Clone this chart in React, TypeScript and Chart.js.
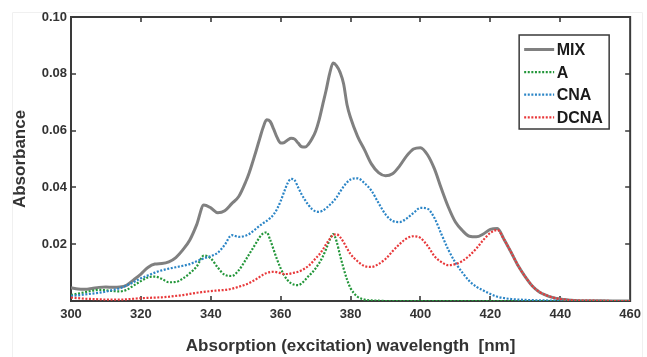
import { useEffect, useRef } from 'react';
import { Chart, registerables } from 'chart.js';

Chart.register(...registerables);

// Wavelength grid in nm (denser around the sharp bands)
const wavelengths = [
  300, 302, 304, 306, 308, 310, 312, 314, 316, 318, 320, 322, 324, 326, 328, 330, 332, 334, 336, 338, 340, 342, 344, 346, 348, 350,
  351, 352, 353, 354, 355, 356, 357, 358, 359, 360, 361, 362, 363, 364, 365, 366, 367, 368, 369, 370, 371, 372, 373, 374, 375, 376, 377, 378, 379, 380,
  382, 384, 386, 388, 390, 392, 394, 396, 398, 400, 402, 404, 406, 408, 410, 412, 414, 416, 418, 420, 422, 424, 426, 428, 430, 432, 434, 436, 438, 440, 442, 444,
  450, 455, 460,
];

const mixAbs = [
  0.0047, 0.0042, 0.0041, 0.0044, 0.0048, 0.0049, 0.0048, 0.0049, 0.0056, 0.0075, 0.0095, 0.0118, 0.0130, 0.0132, 0.0138, 0.0153, 0.0180, 0.0215, 0.0270, 0.0338, 0.0328, 0.0311, 0.0318, 0.0343, 0.0368, 0.0420,
  0.0452, 0.0490, 0.0530, 0.0572, 0.0612, 0.0638, 0.0632, 0.0605, 0.0575, 0.0556, 0.0558, 0.0567, 0.0573, 0.0570, 0.0556, 0.0543, 0.0542, 0.0553, 0.0572, 0.0598, 0.0638, 0.0690, 0.0742, 0.0800, 0.0838, 0.0828, 0.0805, 0.0765, 0.0690, 0.0645,
  0.0580, 0.0532, 0.0482, 0.0452, 0.0441, 0.0448, 0.0475, 0.0510, 0.0535, 0.0540, 0.0515, 0.0465, 0.0395, 0.0330, 0.0278, 0.0248, 0.0228, 0.0226, 0.0236, 0.0252, 0.0255, 0.0215, 0.0170, 0.0123, 0.0085, 0.0053, 0.0032, 0.0020, 0.0012, 0.0007, 0.0004, 0.0002,
  0.0001, 0, 0,
];

const aAbs = [
  0.0021, 0.0026, 0.0031, 0.0036, 0.0039, 0.0038, 0.0035, 0.0034, 0.0040, 0.0055, 0.0070, 0.0083, 0.0086, 0.0078, 0.0066, 0.0067, 0.0079, 0.0098, 0.0122, 0.0160, 0.0150, 0.0118, 0.0092, 0.0088, 0.0108, 0.0145,
  0.0165, 0.0185, 0.0205, 0.0225, 0.0238, 0.0242, 0.0215, 0.0180, 0.0145, 0.0115, 0.0090, 0.0073, 0.0062, 0.0057, 0.0056, 0.0062, 0.0074, 0.0088, 0.0100, 0.0115, 0.0133, 0.0155, 0.0183, 0.0215, 0.0236, 0.0210, 0.0160, 0.0115, 0.0075, 0.0045,
  0.0015, 0.0005, 0.0002, 0.0001, 0, 0, 0, 0, 0, 0, 0, 0, 0, 0, 0, 0, 0, 0, 0, 0, 0, 0, 0, 0, 0, 0, 0, 0, 0, 0, 0, 0,
  0, 0, 0,
];

const cnaAbs = [
  0.0018, 0.0020, 0.0023, 0.0026, 0.0029, 0.0033, 0.0039, 0.0045, 0.0055, 0.0067, 0.0080, 0.0090, 0.0100, 0.0108, 0.0114, 0.0119, 0.0124, 0.0130, 0.0140, 0.0150, 0.0158, 0.0170, 0.0198, 0.0232, 0.0226, 0.0230,
  0.0236, 0.0245, 0.0255, 0.0265, 0.0274, 0.0282, 0.0292, 0.0305, 0.0325, 0.0352, 0.0385, 0.0415, 0.0430, 0.0425, 0.0400, 0.0375, 0.0355, 0.0337, 0.0323, 0.0316, 0.0314, 0.0318, 0.0327, 0.0338, 0.0350, 0.0365, 0.0385, 0.0403, 0.0418, 0.0428,
  0.0432, 0.0415, 0.0388, 0.0345, 0.0305, 0.0282, 0.0278, 0.0290, 0.0310, 0.0328, 0.0325, 0.0292, 0.0235, 0.0180, 0.0135, 0.0100, 0.0070, 0.0050, 0.0037, 0.0025, 0.0015, 0.0010, 0.0007, 0.0005, 0.0004, 0.0003, 0.0002, 0.0002, 0.0001, 0.0001, 0.0001, 0,
  0, 0, 0,
];

const dcnaAbs = [
  0.0012, 0.0010, 0.0008, 0.0007, 0.0006, 0.0005, 0.0005, 0.0005, 0.0006, 0.0008, 0.0010, 0.0011, 0.0012, 0.0013, 0.0015, 0.0018, 0.0021, 0.0025, 0.0029, 0.0032, 0.0035, 0.0037, 0.0039, 0.0043, 0.0050, 0.0058,
  0.0063, 0.0070, 0.0077, 0.0085, 0.0093, 0.0099, 0.0102, 0.0103, 0.0101, 0.0098, 0.0095, 0.0095, 0.0097, 0.0100, 0.0103, 0.0108, 0.0115, 0.0124, 0.0136, 0.0150, 0.0163, 0.0180, 0.0200, 0.0218, 0.0232, 0.0235, 0.0225, 0.0207, 0.0185, 0.0165,
  0.0140, 0.0123, 0.0120, 0.0130, 0.0148, 0.0175, 0.0200, 0.0220, 0.0228, 0.0222, 0.0195, 0.0158, 0.0137, 0.0126, 0.0130, 0.0141, 0.0160, 0.0185, 0.0215, 0.0240, 0.0250, 0.0215, 0.0170, 0.0123, 0.0085, 0.0053, 0.0032, 0.0020, 0.0012, 0.0007, 0.0004, 0.0002,
  0.0001, 0, 0,
];

const seriesLabels = ['MIX', 'A', 'CNA', 'DCNA'];
const seriesColors = ['#808080', '#23963a', '#2b85c6', '#e8383a'];

const FONT = '"Liberation Sans", Arial, Helvetica, sans-serif';
const INK = '#333333';

const toPoints = (vals: number[]) => wavelengths.map((w, i) => ({ x: w, y: vals[i] }));

// Box frame with inward tick marks on all four sides, plus an in-plot legend
const framePlugin = {
  id: 'boxFrame',
  beforeDraw(chart: any) {
    const { ctx, width, height } = chart;
    ctx.save();
    ctx.strokeStyle = '#f0f0f0';
    ctx.lineWidth = 1;
    ctx.beginPath();
    ctx.moveTo(12.5, height);
    ctx.lineTo(12.5, 12.5);
    ctx.lineTo(width - 4.5, 12.5);
    ctx.lineTo(width - 4.5, height);
    ctx.stroke();
    ctx.restore();
  },
  beforeDatasetsDraw(chart: any) {
    const { ctx, chartArea } = chart;
    const { left, right, top, bottom } = chartArea;
    const xs = chart.scales.x;
    const ys = chart.scales.y;
    ctx.save();
    ctx.strokeStyle = '#3a3a3a';
    ctx.lineWidth = 2;
    ctx.strokeRect(left, top, right - left, bottom - top);
    ctx.lineWidth = 1.6;
    const tl = 5;
    ctx.beginPath();
    xs.ticks.forEach((t: any) => {
      const px = Math.round(xs.getPixelForValue(t.value));
      if (px <= left + 1 || px >= right - 1) return;
      ctx.moveTo(px, bottom);
      ctx.lineTo(px, bottom - tl);
      ctx.moveTo(px, top);
      ctx.lineTo(px, top + tl);
    });
    ys.ticks.forEach((t: any) => {
      const py = Math.round(ys.getPixelForValue(t.value));
      if (py <= top + 1 || py >= bottom - 1) return;
      ctx.moveTo(left, py);
      ctx.lineTo(left + tl, py);
      ctx.moveTo(right, py);
      ctx.lineTo(right - tl, py);
    });
    ctx.stroke();
    ctx.restore();
  },
  afterDraw(chart: any) {
    const { ctx, chartArea } = chart;
    const boxRight = chartArea.right - 21;
    const boxLeft = boxRight - 90;
    const boxTop = chartArea.top + 18;
    const rowH = 22.6;
    const boxH = 94;
    ctx.save();
    ctx.fillStyle = '#ffffff';
    ctx.fillRect(boxLeft, boxTop, boxRight - boxLeft, boxH);
    ctx.strokeStyle = '#3a3a3a';
    ctx.lineWidth = 1.5;
    ctx.strokeRect(boxLeft, boxTop, boxRight - boxLeft, boxH);
    ctx.font = `bold 16px ${FONT}`;
    ctx.textBaseline = 'middle';
    ctx.textAlign = 'left';
    chart.data.datasets.forEach((ds: any, i: number) => {
      const cy = boxTop + 15 + i * rowH;
      ctx.beginPath();
      ctx.strokeStyle = ds.borderColor;
      ctx.lineWidth = ds.borderWidth;
      ctx.setLineDash(ds.borderDash || []);
      ctx.moveTo(boxLeft + 5, cy - 0.5);
      ctx.lineTo(boxLeft + 35, cy - 0.5);
      ctx.stroke();
      ctx.setLineDash([]);
      ctx.fillStyle = '#1a1a1a';
      ctx.fillText(ds.label, boxLeft + 37.5, cy + 0.5);
    });
    ctx.restore();
  },
};

export default function App() {
  const canvasRef = useRef<HTMLCanvasElement | null>(null);

  useEffect(() => {
    if (!canvasRef.current) return;
    const series = [mixAbs, aAbs, cnaAbs, dcnaAbs];
    const chart = new Chart(canvasRef.current, {
      type: 'line',
      data: {
        datasets: series.map((vals, i) => ({
          label: seriesLabels[i],
          data: toPoints(vals),
          borderColor: seriesColors[i],
          backgroundColor: seriesColors[i],
          borderWidth: i === 0 ? 3 : 2.2,
          borderDash: i === 0 ? [] : [2, 1.6],
          pointRadius: 0,
          fill: false,
          cubicInterpolationMode: 'monotone' as const,
          order: 4 - i,
        })),
      },
      plugins: [framePlugin],
      options: {
        responsive: false,
        animation: false,
        devicePixelRatio: 1,
        layout: { padding: { left: 0, top: 17, right: 13, bottom: 0 } },
        plugins: {
          legend: { display: false },
          tooltip: { enabled: false },
        },
        scales: {
          x: {
            type: 'linear',
            min: 300,
            max: 460,
            grid: { display: false, drawTicks: false },
            border: { display: false },
            ticks: {
              stepSize: 20,
              padding: 6,
              color: INK,
              font: { family: FONT, size: 13, weight: 'bold' },
              callback: (v: any) => String(v),
            },
            title: {
              display: true,
              text: 'Absorption (excitation) wavelength  [nm]',
              color: INK,
              font: { family: FONT, size: 17, weight: 'bold' },
              padding: { top: 0, bottom: 0 },
            },
            afterFit: (scale: any) => {
              scale.height = 56;
            },
          },
          y: {
            type: 'linear',
            min: 0,
            max: 0.1,
            grid: { display: false, drawTicks: false },
            border: { display: false },
            ticks: {
              stepSize: 0.02,
              padding: 4,
              color: INK,
              font: { family: FONT, size: 13, weight: 'bold' },
              callback: (v: any) => (Math.abs(Number(v)) < 1e-9 ? '' : Number(v).toFixed(2)),
            },
            title: {
              display: true,
              text: 'Absorbance',
              color: INK,
              font: { family: FONT, size: 17, weight: 'bold' },
              padding: { top: 10, bottom: 0 },
            },
            afterFit: (scale: any) => {
              scale.width = 71;
            },
          },
        },
      },
    });
    return () => chart.destroy();
  }, []);

  return (
    <div style={{ position: 'absolute', left: 0, top: 0, width: 647, height: 357, background: '#ffffff' }}>
      <canvas ref={canvasRef} width={647} height={357} />
    </div>
  );
}
